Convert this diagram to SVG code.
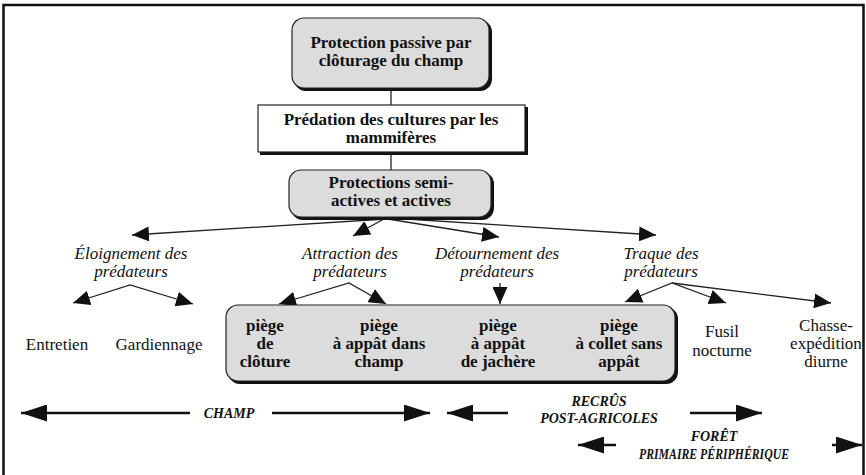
<svg xmlns="http://www.w3.org/2000/svg" width="866" height="475" viewBox="0 0 866 475">
<defs>
<style>
text{font-family:'Liberation Serif','Times New Roman',Times,serif;fill:#111;text-anchor:middle}
.b{font-weight:bold;font-size:17px}
.r{font-size:17px}
.i{font-style:italic;font-size:17px}
.bi{font-style:italic;font-weight:bold;font-size:14px}
.ln{stroke:#222;stroke-width:1.3;fill:none}
.big{stroke:#111;stroke-width:2.5;fill:none}
.box{fill:#dcdcdc;stroke:#222;stroke-width:1.2}
.wbox{fill:#fff;stroke:#222;stroke-width:1.2}
.sh{fill:#111}
</style>
<marker id="ah" markerUnits="userSpaceOnUse" markerWidth="17" markerHeight="15" refX="17" refY="7.5" orient="auto-start-reverse">
<path d="M0,0 L17,7.5 L0,15 z" fill="#111"/>
</marker>
<marker id="bh" markerUnits="userSpaceOnUse" markerWidth="26" markerHeight="17" refX="26" refY="8.5" orient="auto">
<path d="M0,0 L26,8.5 L0,17 z" fill="#111"/>
</marker>
</defs>
<rect x="0" y="0" width="866" height="475" fill="#fff"/>
<rect x="3.5" y="5" width="860" height="475" fill="none" stroke="#111" stroke-width="2.5"/>

<g id="connectors">
<line class="ln" x1="391" y1="89" x2="391" y2="105"/>
<line class="ln" x1="391" y1="153" x2="391" y2="170"/>
<line class="ln" x1="386" y1="219" x2="132" y2="235" marker-end="url(#ah)"/>
<line class="ln" x1="384" y1="219" x2="353" y2="236" marker-end="url(#ah)"/>
<line class="ln" x1="388" y1="219" x2="499" y2="237" marker-end="url(#ah)"/>
<line class="ln" x1="390" y1="218" x2="656" y2="235" marker-end="url(#ah)"/>
<polyline class="ln" points="73,303 130,285 193,304" marker-start="url(#ah)" marker-end="url(#ah)"/>
<polyline class="ln" points="279,304 349,283 386,304" marker-start="url(#ah)" marker-end="url(#ah)"/>
<line class="ln" x1="500" y1="283" x2="500" y2="304" marker-end="url(#ah)"/>
<polyline class="ln" points="625,302 672,283 726,303" marker-start="url(#ah)" marker-end="url(#ah)"/>
<line class="ln" x1="672" y1="283" x2="831" y2="303" marker-end="url(#ah)"/>
<line class="big" x1="190" y1="413" x2="21" y2="413" marker-end="url(#bh)"/>
<line class="big" x1="272" y1="413" x2="430" y2="413" marker-end="url(#bh)"/>
<line class="big" x1="508" y1="413" x2="447" y2="413" marker-end="url(#bh)"/>
<line class="big" x1="690" y1="413" x2="762" y2="413" marker-end="url(#bh)"/>
<line class="big" x1="616" y1="445" x2="578" y2="445" marker-end="url(#bh)"/>
<line class="big" x1="832" y1="445" x2="862" y2="445" marker-end="url(#bh)"/>
</g>

<g id="n-passive">
<rect class="sh" x="294" y="20" width="198" height="71" rx="12"/>
<rect class="box" x="292" y="18" width="197" height="70" rx="12"/>
<text class="b" x="391" y="48">Protection passive par</text>
<text class="b" x="391" y="66">clôturage du champ</text>
</g>

<g id="n-predation">
<rect class="sh" x="260" y="107" width="268" height="48"/>
<rect class="wbox" x="258" y="105" width="267" height="47"/>
<text class="b" x="391" y="125">Prédation des cultures par les</text>
<text class="b" x="391" y="143">mammifères</text>
</g>

<g id="n-actives">
<rect class="sh" x="291" y="172" width="203" height="48" rx="12"/>
<rect class="box" x="289" y="170" width="202" height="47" rx="12"/>
<text class="b" x="391" y="188">Protections semi-</text>
<text class="b" x="391" y="206">actives et actives</text>
</g>

<g id="n-eloignement">
<text class="i" x="131" y="259">Éloignement des</text>
<text class="i" x="131" y="277">prédateurs</text>
</g>
<g id="n-attraction">
<text class="i" x="350" y="259">Attraction des</text>
<text class="i" x="350" y="277">prédateurs</text>
</g>
<g id="n-detournement">
<text class="i" x="497" y="259">Détournement des</text>
<text class="i" x="497" y="277">prédateurs</text>
</g>
<g id="n-traque">
<text class="i" x="661" y="259">Traque des</text>
<text class="i" x="661" y="277">prédateurs</text>
</g>

<g id="n-entretien">
<text class="r" x="57" y="350">Entretien</text>
</g>
<g id="n-gardiennage">
<text class="r" x="159" y="350">Gardiennage</text>
</g>

<g id="n-pieges">
<rect class="sh" x="228" y="307" width="450" height="77" rx="12"/>
<rect class="box" x="226" y="305" width="449" height="76" rx="12"/>
</g>
<g id="n-piege-cloture">
<text class="b" x="265" y="331">piège</text>
<text class="b" x="265" y="349">de</text>
<text class="b" x="265" y="367">clôture</text>
</g>
<g id="n-piege-champ">
<text class="b" x="379" y="331">piège</text>
<text class="b" x="379" y="349">à appât dans</text>
<text class="b" x="379" y="367">champ</text>
</g>
<g id="n-piege-jachere">
<text class="b" x="498" y="331">piège</text>
<text class="b" x="498" y="349">à appât</text>
<text class="b" x="498" y="367">de jachère</text>
</g>
<g id="n-piege-collet">
<text class="b" x="619" y="331">piège</text>
<text class="b" x="619" y="349">à collet sans</text>
<text class="b" x="619" y="367">appât</text>
</g>

<g id="n-fusil">
<text class="r" x="722" y="337">Fusil</text>
<text class="r" x="722" y="356">nocturne</text>
</g>
<g id="n-chasse">
<text class="r" x="826" y="331">Chasse-</text>
<text class="r" x="826" y="349">expédition</text>
<text class="r" x="826" y="367">diurne</text>
</g>

<g id="n-zones">
<text class="bi" x="229" y="418" font-size="15">CHAMP</text>
<text class="bi" x="599" y="406">RECRÛS</text>
<text class="bi" x="599" y="423">POST-AGRICOLES</text>
<text class="bi" x="714" y="441">FORÊT</text>
<text class="bi" x="714" y="459" textLength="150" lengthAdjust="spacingAndGlyphs">PRIMAIRE PÉRIPHÉRIQUE</text>
</g>
</svg>
